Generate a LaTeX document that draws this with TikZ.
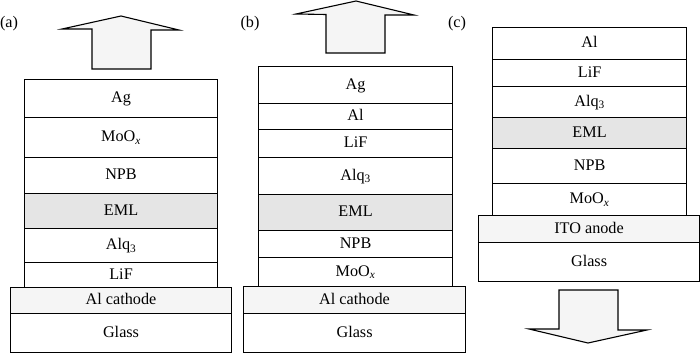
\documentclass[tikz,border=0pt]{standalone}
\usepackage{fontspec}
\setmainfont{Liberation Serif}
\begin{document}
\begin{tikzpicture}[x=1pt,y=-1pt,
  layer/.style={draw=black,line width=1.1pt,fill=white,inner sep=0pt,
    font=\fontsize{16.2}{19}\selectfont,text height=11pt,text depth=3pt},
  emlfill/.style={layer,fill=black!10},
  basefill/.style={layer,fill=black!4},
  bigarrow/.style={draw=black,line width=1.1pt,fill=black!4,line join=miter},
  panel/.style={font=\fontsize{16.2}{19}\selectfont,inner sep=0pt}]
\useasboundingbox (0,0) rectangle (700,353);
\newcommand\lay[7]{%
  \pgfmathsetmacro\lw{#5-#3}\pgfmathsetmacro\lh{#6-#4}%
  \node[#1,minimum width=\lw pt,minimum height=\lh pt,anchor=north west] (#2) at (#3,#4) {#7};}
\newcommand\moox{MoO\textsubscript{\itshape x}}
\newcommand\alqt{Alq\textsubscript{3}}
% panel labels
\node[panel] (la) at (9,24) {(a)};
\node[panel] (lb) at (250,24) {(b)};
\node[panel] (lc) at (457,24) {(c)};
% (a)
\lay{layer}{aAg}{24}{79}{217}{117}{Ag}
\lay{layer}{aMo}{24}{117}{217}{157}{\moox}
\lay{layer}{aNPB}{24}{157}{217}{193}{NPB}
\lay{emlfill}{aEML}{24}{193}{217}{228}{EML}
\lay{layer}{aAlq}{24}{228}{217}{262}{\alqt}
\lay{layer}{aLiF}{24}{262}{217}{287}{LiF}
\lay{basefill}{aAl}{10}{287}{231}{313}{Al cathode}
\lay{layer}{aGl}{10}{313}{231}{352}{Glass}
\draw[bigarrow] (92,69) -- (92,29) -- (62,29) -- (121,16) -- (179,30) -- (151,30) -- (151,69) -- cycle;
% (b)
\lay{layer}{bAg}{258}{66}{452}{103}{Ag}
\lay{layer}{bAl}{258}{103}{452}{129}{Al}
\lay{layer}{bLiF}{258}{129}{452}{157}{LiF}
\lay{layer}{bAlq}{258}{157}{452}{194}{\alqt}
\lay{emlfill}{bEML}{258}{194}{452}{230}{EML}
\lay{layer}{bNPB}{258}{230}{452}{257}{NPB}
\lay{layer}{bMo}{258}{257}{452}{286}{\moox}
\lay{basefill}{bAlc}{243}{286}{465}{313}{Al cathode}
\lay{layer}{bGl}{243}{313}{465}{352}{Glass}
\draw[bigarrow] (326,53) -- (326,14.5) -- (296,14) -- (356,1) -- (414,15) -- (385,15) -- (385,53) -- cycle;
% (c)
\lay{layer}{cAl}{492}{27}{686}{59}{Al}
\lay{layer}{cLiF}{492}{59}{686}{86}{LiF}
\lay{layer}{cAlq}{492}{86}{686}{117}{\alqt}
\lay{emlfill}{cEML}{492}{117}{686}{148}{EML}
\lay{layer}{cNPB}{492}{148}{686}{183}{NPB}
\lay{layer}{cMo}{492}{183}{686}{215}{\moox}
\lay{basefill}{cITO}{478}{215}{699}{242}{ITO anode}
\lay{layer}{cGl}{478}{242}{699}{281}{Glass}
\draw[bigarrow] (559,290) -- (559,329) -- (529,329) -- (588,343) -- (647,330) -- (618,330) -- (618,290) -- cycle;
\end{tikzpicture}
\end{document}
